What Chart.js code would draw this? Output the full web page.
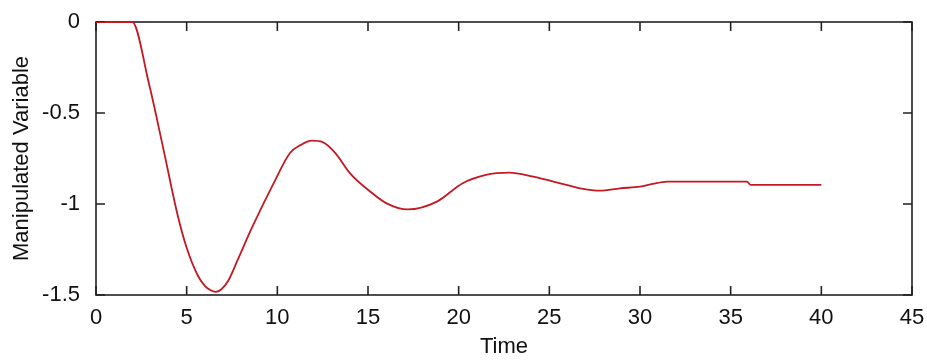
<!DOCTYPE html>
<html>
<head>
<meta charset="utf-8">
<script src="https://cdn.jsdelivr.net/npm/chart.js@4"></script>
<style>
  html, body { margin: 0; padding: 0; background: #fff; }
  #wrap { width: 927px; height: 360px; }
</style>
</head>
<body>
<div id="wrap"><canvas id="mv_chart"></canvas></div>
<script>
// values
const times = [0, 2, 2.9, 3.7, 4.5, 5.0, 5.6, 6.0, 6.3, 6.6, 6.9, 7.3, 7.8, 8.6, 9.8, 10.7, 11.3, 11.9, 12.5, 13.2, 14.0, 15.1, 16.0, 17.2, 18.8, 20.2, 21.5, 22.8, 24.1, 25.6, 26.7, 27.8, 28.9, 30.0, 30.7, 31.5, 35.9, 36.1, 40];
const values = [0, 0, -0.33, -0.69, -1.06, -1.24, -1.39, -1.45, -1.473, -1.483, -1.47, -1.42, -1.31, -1.13, -0.885, -0.72, -0.675, -0.652, -0.66, -0.72, -0.83, -0.93, -0.995, -1.03, -0.987, -0.887, -0.84, -0.828, -0.85, -0.886, -0.914, -0.927, -0.914, -0.905, -0.89, -0.877, -0.877, -0.895, -0.895];
const xTicks = [0, 5, 10, 15, 20, 25, 30, 35, 40, 45];
const yTicks = [0, -0.5, -1, -1.5];

const labelFont = { family: "'Liberation Sans', Arial, sans-serif", size: 22 };

// matlab style box with inward ticks on all four sides
const boxPlugin = {
    id: 'boxPlugin',
    beforeDatasetsDraw(chart){
        const {ctx, chartArea: a, scales} = chart;
        const len = 9;
        ctx.save();
        ctx.strokeStyle = '#222';
        ctx.lineWidth = 1.6;
        ctx.strokeRect(a.left, a.top, a.right - a.left, a.bottom - a.top);
        ctx.beginPath();
        xTicks.forEach(v => {
            const px = scales.x.getPixelForValue(v);
            ctx.moveTo(px, a.bottom); ctx.lineTo(px, a.bottom - len);
            ctx.moveTo(px, a.top); ctx.lineTo(px, a.top + len);
        });
        yTicks.forEach(v => {
            const py = scales.y.getPixelForValue(v);
            ctx.moveTo(a.left, py); ctx.lineTo(a.left + len, py);
            ctx.moveTo(a.right, py); ctx.lineTo(a.right - len, py);
        });
        ctx.stroke();
        ctx.restore();
    }
};

const points = times.map((t, i) => ({x: t, y: values[i]}));

const ctx = document.getElementById('mv_chart').getContext('2d');
const mv_chart = new Chart(ctx, {
    type: 'line',
    data: {
        datasets: [{
            label: 'Manipulated Variable',
            data: points,
            borderColor: 'rgb(195, 25, 35)',
            borderWidth: 1.8,
            pointRadius: 0,
            fill: false,
            cubicInterpolationMode: 'monotone'
        }]
    },
    options: {
        responsive: true,
        maintainAspectRatio: false,
        animation: false,
        layout: { padding: { top: 22, right: 15, left: 0, bottom: 0 } },
        plugins: {
            legend: { display: false },
            tooltip: { enabled: false }
        },
        scales: {
            x: {
                type: 'linear',
                min: 0,
                max: 45,
                afterFit(s){ s.height = 65; },
                afterBuildTicks(s){ s.ticks = xTicks.map(v => ({value: v})); },
                ticks: { color: '#111', font: labelFont, padding: 2, maxRotation: 0 },
                grid: { display: false },
                border: { display: false },
                title: {
                    display: true,
                    text: 'Time',
                    color: '#111',
                    font: labelFont,
                    padding: { top: 0, bottom: 0 }
                }
            },
            y: {
                min: -1.5,
                max: 0,
                afterFit(s){ s.width = 96; },
                afterBuildTicks(s){ s.ticks = yTicks.map(v => ({value: v})); },
                ticks: {
                    color: '#111',
                    font: labelFont,
                    padding: 8,
                    callback: v => String(v)
                },
                grid: { display: false },
                border: { display: false },
                title: {
                    display: true,
                    text: 'Manipulated Variable',
                    color: '#111',
                    font: labelFont,
                    padding: { top: 9, bottom: 0 }
                }
            }
        }
    },
    plugins: [boxPlugin]
});
</script>
</body>
</html>
